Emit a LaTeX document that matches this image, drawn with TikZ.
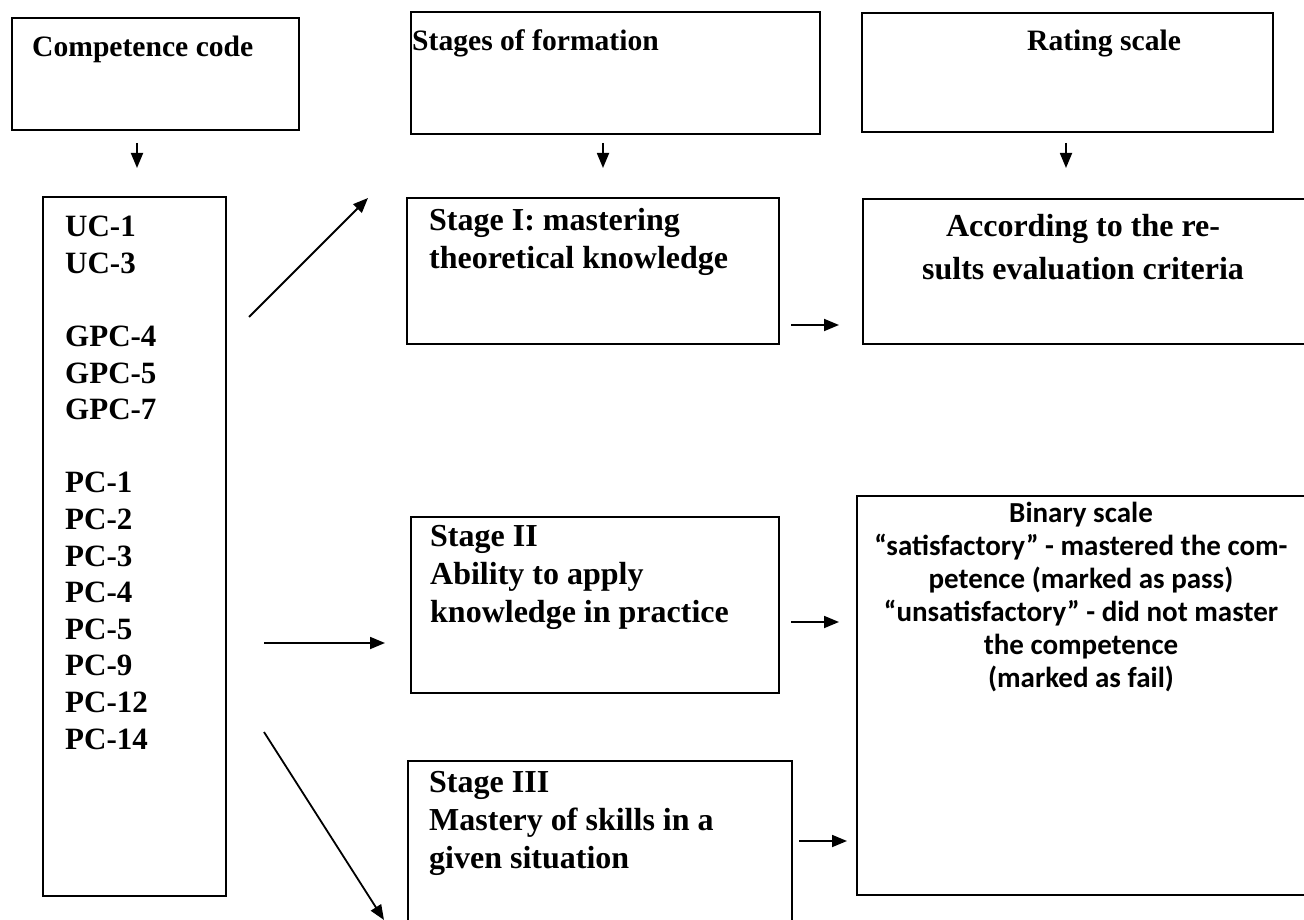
\documentclass[tikz,border=0pt]{standalone}
\usepackage{fontspec}
\setmainfont{Liberation Serif}
\newfontfamily\calfont{Carlito}
\usetikzlibrary{arrows.meta}
\tikzset{
  box/.style={draw, line width=1.8pt, inner sep=0pt, outer sep=0pt, anchor=north west},
  conn/.style={line width=1.8pt, -{Triangle[length=15pt,width=12pt]}},
  title/.style={font=\fontsize{29.6}{34}\selectfont\bfseries, inner sep=0pt, anchor=base west},
  codes/.style={font=\fontsize{31}{36.6}\selectfont\bfseries, inner sep=0pt, align=left, anchor=north west},
  stagetxt/.style={font=\fontsize{32}{38.3}\selectfont\bfseries, inner sep=0pt, align=left, anchor=north west},
  ratetxt/.style={font=\fontsize{32}{43}\selectfont\bfseries, inner sep=0pt, align=center, anchor=north},
  bintxt/.style={font=\calfont\fontsize{29}{33}\selectfont\bfseries, inner sep=0pt, align=center, anchor=north},
}
\begin{document}
\begin{tikzpicture}[x=1pt,y=-1pt]
\useasboundingbox (0,0) rectangle (1304,920);
\clip (0,0) rectangle (1304,920);
\fill[white] (0,0) rectangle (1304,920);

% header boxes
\node[box, minimum width=287pt, minimum height=112pt] (cc) at (12,18) {};
\node[box, minimum width=409pt, minimum height=122pt] (sf) at (411,12) {};
\node[box, minimum width=411pt, minimum height=119pt] (rs) at (862,13) {};
\node[title] (cct) at (32,57) {Competence code};
\node[title] (sft) at (412,51) {Stages of formation};
\node[title] (rst) at (1027,51) {Rating scale};

% main boxes
\node[box, minimum width=183pt, minimum height=699pt] (codes) at (43,197) {};
\node[box, minimum width=372pt, minimum height=146pt] (s1) at (407,198) {};
\node[box, minimum width=480pt, minimum height=145pt] (acc) at (863,199) {};
\node[box, minimum width=368pt, minimum height=176pt] (s2) at (411,517) {};
\node[box, minimum width=384pt, minimum height=200pt] (s3) at (408,761) {};
\node[box, minimum width=480pt, minimum height=399pt] (bin) at (857,496) {};

% texts
\node[codes] (codest) at (65,216) {UC-1\\UC-3\\[36.6pt]GPC-4\\GPC-5\\GPC-7\\[36.6pt]PC-1\\PC-2\\PC-3\\PC-4\\PC-5\\PC-9\\PC-12\\PC-14};
\node[stagetxt] (s1t) at (429,208) {Stage I: mastering\\theoretical knowledge};
\node[stagetxt] (s2t) at (430,525) {Stage II\\Ability to apply\\knowledge in practice};
\node[stagetxt] (s3t) at (429,771) {Stage III\\Mastery of skills in a\\given situation};
\node[ratetxt] (acct) at (1083,214) {According to the re-\\sults evaluation criteria};
\node[bintxt] (bint) at (1081,502) {Binary scale\\“satisfactory” - mastered the com-\\petence (marked as pass)\\“unsatisfactory” - did not master\\the competence\\(marked as fail)};

% connector end points
\coordinate (d1s) at (137,143); \coordinate (d1e) at (137,168);
\coordinate (d2s) at (603,143); \coordinate (d2e) at (603,168);
\coordinate (d3s) at (1066,143); \coordinate (d3e) at (1066,168);
\coordinate (g1s) at (249,317); \coordinate (g1e) at (368,198);
\coordinate (g2s) at (264,643); \coordinate (g2e) at (385,643);
\coordinate (g3s) at (264,732); \coordinate (g3e) at (384,920);
\coordinate (h1s) at (791,325); \coordinate (h1e) at (839,325);
\coordinate (h2s) at (791,622); \coordinate (h2e) at (839,622);
\coordinate (h3s) at (799,841); \coordinate (h3e) at (847,841);

\draw[conn] (d1s) -- (d1e);
\draw[conn] (d2s) -- (d2e);
\draw[conn] (d3s) -- (d3e);
\draw[conn] (g1s) -- (g1e);
\draw[conn] (g2s) -- (g2e);
\draw[conn] (g3s) -- (g3e);
\draw[conn] (h1s) -- (h1e);
\draw[conn] (h2s) -- (h2e);
\draw[conn] (h3s) -- (h3e);
\end{tikzpicture}
\end{document}
